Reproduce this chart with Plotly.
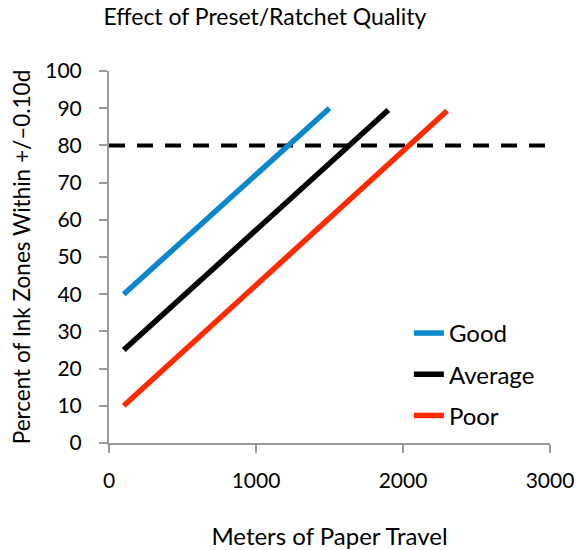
import plotly.graph_objects as go

# Data
series_names = ["Good", "Average", "Poor"]
good_x = [100, 1500]
good_y = [40, 90]
avg_x = [100, 1900]
avg_y = [25, 89.5]
poor_x = [100, 2300]
poor_y = [10, 89.3]
target_x = [0, 3000]
target_y = [80, 80]
colors = ["#0A87CD", "#000000", "#FF2A00"]

FONT = "Lato, 'Open Sans', sans-serif"

fig = go.Figure()
fig.add_trace(go.Scatter(x=target_x, y=target_y, mode="lines", showlegend=False,
                         line=dict(color="black", width=4, dash="16px,12px"), hoverinfo="skip"))
for name, xs, ys, c in zip(series_names, [good_x, avg_x, poor_x], [good_y, avg_y, poor_y], colors):
    fig.add_trace(go.Scatter(x=xs, y=ys, mode="lines", name=name, legendgroup=name,
                             line=dict(color=c, width=5.5)))

fig.update_layout(
    width=576, height=550,
    margin=dict(l=109, r=26, t=71, b=107, autoexpand=False),
    paper_bgcolor="white", plot_bgcolor="white",
    font=dict(family=FONT, size=21, color="black"),
    title=dict(text="Effect of Preset/Ratchet Quality", x=0.46, xanchor="center",
               y=0.97, yanchor="middle", yref="container", font=dict(size=23)),
    showlegend=True,
    legend=dict(x=0.68, y=0.355, xanchor="left", yanchor="top", bgcolor="rgba(0,0,0,0)",
                font=dict(size=24), tracegroupgap=7, itemwidth=30),
)
fig.update_xaxes(range=[0, 3000], tickvals=[0, 1000, 2000, 3000], showgrid=False, zeroline=False,
                 showline=True, linecolor="#9a9a9a", linewidth=2, ticks="outside", ticklen=8,
                 tickcolor="#9a9a9a", tickwidth=2, ticklabelstandoff=10, automargin=False,
                 title=dict(text="Meters of Paper Travel", standoff=37, font=dict(size=24)))
fig.update_yaxes(range=[0, 100], tickvals=list(range(0, 101, 10)), showgrid=False, zeroline=False,
                 showline=True, linecolor="#9a9a9a", linewidth=2, ticks="outside", ticklen=8,
                 tickcolor="#9a9a9a", tickwidth=2, ticklabelstandoff=13, automargin=False,
                 title=dict(text="Percent of Ink Zones Within +/\u20130.10d", standoff=8, font=dict(size=22.5)))

fig.write_html("out.html")
